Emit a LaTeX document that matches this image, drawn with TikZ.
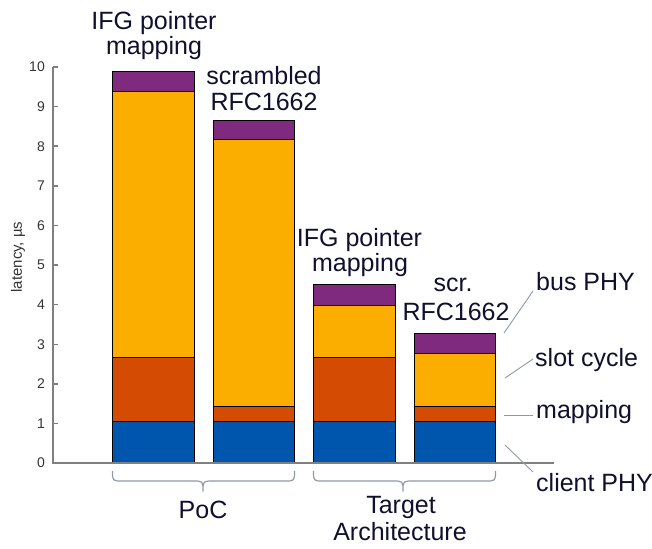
\documentclass[tikz,border=0pt]{standalone}
\usepackage{fontspec}
\setmainfont{Liberation Sans}
\definecolor{ink}{HTML}{10102E}
\definecolor{axisink}{HTML}{333333}
\definecolor{axisline}{HTML}{808080}
\definecolor{bracec}{HTML}{8E98AA}
\definecolor{cblue}{HTML}{0055AD}
\definecolor{cred}{HTML}{D44B03}
\definecolor{cyellow}{HTML}{FCAE00}
\definecolor{cpurple}{HTML}{7F2A7E}
% one stacked bar: left edge, then the tops of the four layers (in µs)
\newcommand\stackbar[5]{%
  \draw[seg, fill=cblue]   (#1,463) rectangle ({#1+81.5},{463-39.6*#2});
  \draw[seg, fill=cred]    (#1,{463-39.6*#2}) rectangle ({#1+81.5},{463-39.6*#3});
  \draw[seg, fill=cyellow] (#1,{463-39.6*#3}) rectangle ({#1+81.5},{463-39.6*#4});
  \draw[seg, fill=cpurple] (#1,{463-39.6*#4}) rectangle ({#1+81.5},{463-39.6*#5});
}
\begin{document}
\begin{tikzpicture}[x=1pt, y=-1pt,
  lbl/.style={font=\fontsize{25}{26}\selectfont, text=ink, inner sep=0pt, anchor=base},
  legend/.style={lbl, anchor=base west},
  seg/.style={draw=black, line width=0.9pt},
  axis/.style={draw=axisline, line width=1.4pt},
  ticklbl/.style={font=\fontsize{14}{14}\selectfont, text=axisink, inner sep=0pt, anchor=east},
  curly/.style={draw=bracec, line width=1.2pt},
  leader/.style={draw=bracec, line width=0.9pt}]
\useasboundingbox (0,0) rectangle (652,548);

% stacked bars
\stackbar{112.5}{1.04}{2.66}{9.38}{9.9}
\stackbar{213}{1.04}{1.44}{8.16}{8.64}
\stackbar{313.5}{1.04}{2.66}{3.98}{4.51}
\stackbar{414}{1.04}{1.44}{2.77}{3.28}

% axes
\draw[axis] (53,67) -- (53,463) -- (554,463);
\foreach \v in {0,...,10} {
  \draw[axis] (53,{463-39.6*\v}) -- (57.5,{463-39.6*\v});
  \node[ticklbl] (tick\v) at (45,{463-39.6*\v}) {\v};
}
\node[rotate=90, font=\fontsize{15}{15}\selectfont, text=axisink] (ylab) at (18,257) {latency, µs};

% bar captions
\node[lbl] (capAa) at (154,30) {IFG pointer};
\node[lbl] (capAb) at (154,55) {mapping};
\node[lbl] (capBa) at (264,85) {scrambled};
\node[lbl] (capBb) at (264,111) {RFC1662};
\node[lbl] (capCa) at (359.5,246) {IFG pointer};
\node[lbl] (capCb) at (360,271.5) {mapping};
\node[lbl] (capDa) at (453,291.7) {scr.};
\node[lbl] (capDb) at (456,320.7) {RFC1662};

% group braces
\draw[curly] (112.5,471) .. controls (112.5,481) .. (122.5,481) -- (193,481)
  .. controls (203,481) .. (203,491.5) .. controls (203,481) .. (213,481)
  -- (284.5,481) .. controls (294.5,481) .. (294.5,471);
\draw[curly] (313.5,471) .. controls (313.5,481) .. (323.5,481) -- (393,481)
  .. controls (403,481) .. (403,491.5) .. controls (403,481) .. (413,481)
  -- (485.5,481) .. controls (495.5,481) .. (495.5,471);
\node[lbl] (poc) at (203,518) {PoC};
\node[lbl] (tgtA) at (401,513.3) {Target};
\node[lbl] (tgtB) at (400,540) {Architecture};

% legend
\node[legend] (bus) at (536,290) {bus PHY};
\node[legend] (slot) at (535,366.5) {slot cycle};
\node[legend] (map) at (536,418.3) {mapping};
\node[legend] (client) at (536,491.7) {client PHY};
\coordinate (busS) at (504,333);
\coordinate (slotS) at (505,378);
\coordinate (mapS) at (504,415);
\coordinate (clientS) at (505,445);
\coordinate (busE) at (533,291);
\coordinate (slotE) at (533,359);
\coordinate (mapE) at (533,415);
\coordinate (clientE) at (533,472);
\draw[leader] (busS) -- (busE);
\draw[leader] (slotS) -- (slotE);
\draw[leader] (mapS) -- (mapE);
\draw[leader] (clientS) -- (clientE);
\end{tikzpicture}
\end{document}
